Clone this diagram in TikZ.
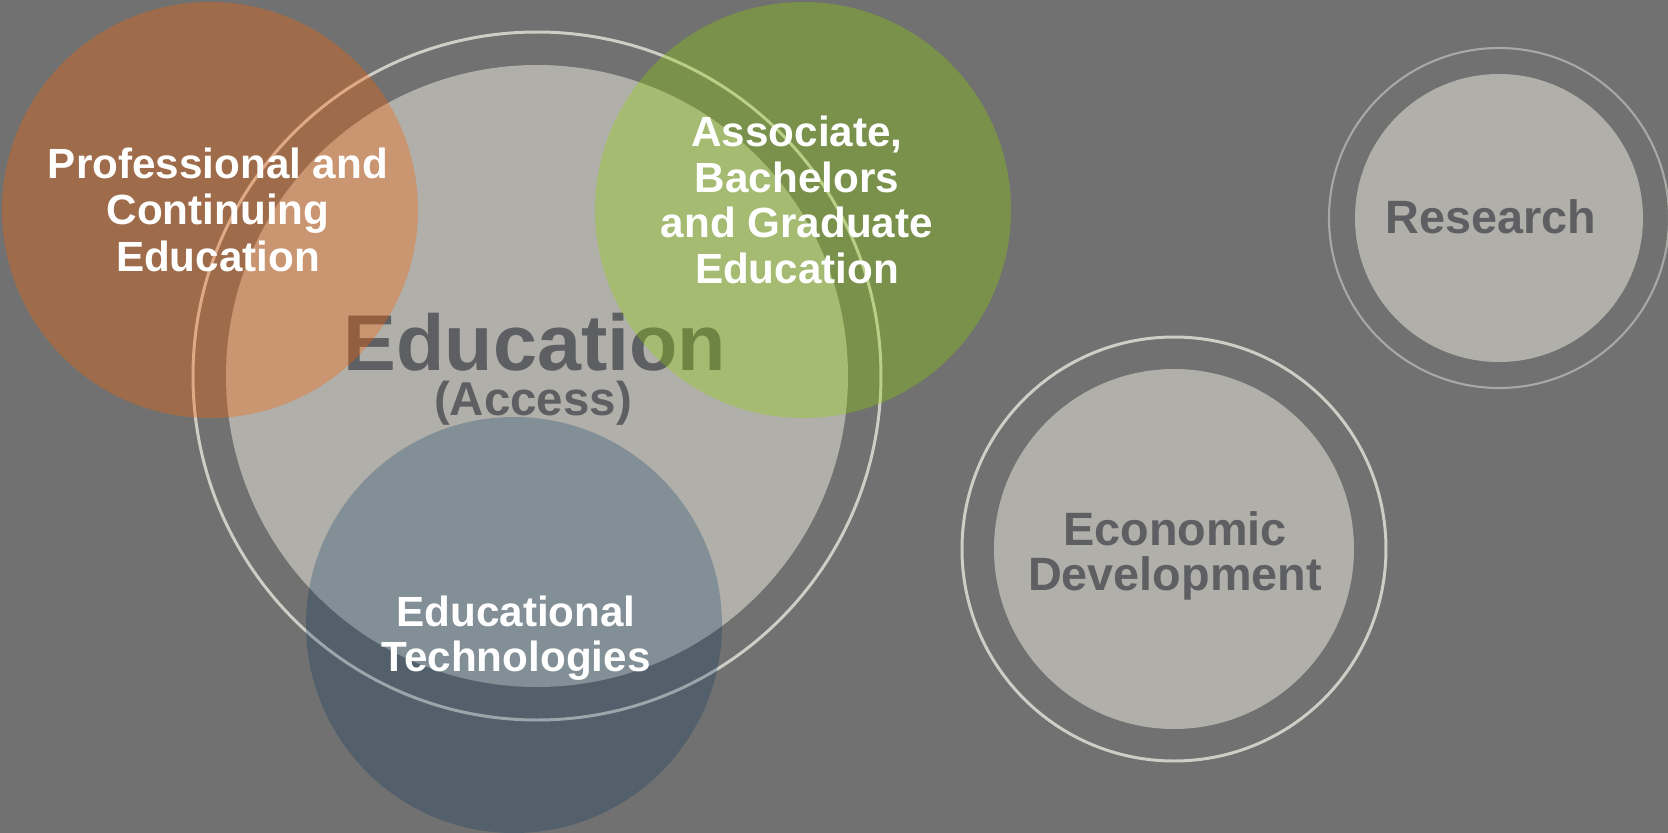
\documentclass[tikz,border=0pt]{standalone}
\usepackage{fontspec}
\setmainfont{Liberation Sans}
\definecolor{backdrop}{RGB}{112,113,112}
\definecolor{discgray}{RGB}{176,175,169}
\definecolor{ringlight}{RGB}{206,205,198}
\definecolor{ringdim}{RGB}{168,168,164}
\definecolor{labelgray}{RGB}{94,95,98}
\definecolor{profcol}{RGB}{255,98,0}
\definecolor{degreecol}{RGB}{146,213,0}
\definecolor{techcol}{RGB}{0,49,96}
\begin{document}
\begin{tikzpicture}[x=0.01cm,y=-0.01cm,
    ring/.style={draw=ringlight,line width=0.85pt},
    whitelabel/.style={text=white,align=center,inner sep=0pt,anchor=north,
      font=\bfseries\fontsize{12}{13.2}\selectfont},
    graylabel/.style={text=labelgray,align=center,inner sep=0pt,
      font=\bfseries\fontsize{13.3}{12.75}\selectfont}]
  \fill[backdrop] (0,0) rectangle (1668,833);
  \useasboundingbox (0,0) rectangle (1668,833);
  % education (access)
  \draw[ring] (537,376) circle (344);
  \fill[discgray] (537,376) circle (311);
  \node[graylabel,anchor=base,font=\bfseries\fontsize{22.5}{24}\selectfont] (edu) at (535,370) {Education};
  \node[graylabel,anchor=base,font=\bfseries\fontsize{13.5}{14}\selectfont] (access) at (533,415) {(Access)};
  % overlapping areas
  \fill[profcol,fill opacity=0.33] (210,210) circle (208);
  \fill[degreecol,fill opacity=0.32] (803,210) circle (208);
  \fill[techcol,fill opacity=0.25] (514,625) circle (208);
  \node[whitelabel] (prof) at (218,147) {Professional and\\Continuing\\Education};
  \node[whitelabel,font=\bfseries\fontsize{12}{13}\selectfont] (degree) at (797,115) {Associate,\\Bachelors\\and Graduate\\Education};
  \node[whitelabel,font=\bfseries\fontsize{12}{12.75}\selectfont] (tech) at (516,595) {Educational\\Technologies};
  % research
  \draw[ring,draw=ringdim,line width=0.6pt] (1499,218) circle (170);
  \fill[discgray] (1499,218) circle (144);
  \node[graylabel,anchor=base] (research) at (1491,233) {Research};
  % economic development
  \draw[ring] (1174,549) circle (212);
  \fill[discgray] (1174,549) circle (180);
  \node[graylabel,anchor=north] (econ) at (1175,511) {Economic\\Development};
\end{tikzpicture}
\end{document}
